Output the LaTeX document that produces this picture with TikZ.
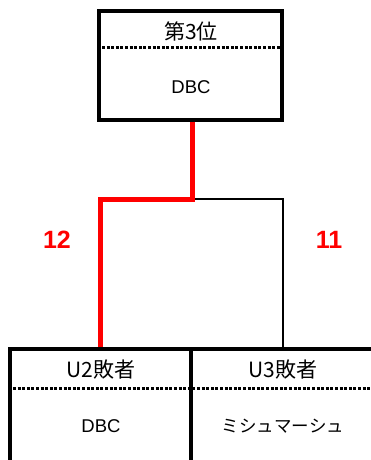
\documentclass[tikz,border=0pt]{standalone}
\usepackage{fontspec}
\setmainfont{Liberation Sans}
\newfontfamily\jp{Noto Sans CJK JP}
\begin{document}
\begin{tikzpicture}[x=1pt,y=-1pt,
  box/.style={draw=black,line width=3.2pt,rectangle,inner sep=0pt},
  sep/.style={line width=3pt,dash pattern=on 3pt off 1.6pt},
  head/.style={font=\jp\fontsize{21}{21}\selectfont,inner sep=0pt},
  body/.style={font=\fontsize{18.5}{18.5}\selectfont,inner sep=0pt},
  bodyjp/.style={font=\jp\fontsize{17.5}{17.5}\selectfont,inner sep=0pt},
  win/.style={draw=red,line width=5pt},
  lose/.style={draw=black,line width=1.3pt},
  score/.style={text=red,font=\bfseries\fontsize{25}{25}\selectfont,inner sep=0pt}]
\useasboundingbox (0,0) rectangle (371,460);
\fill[white] (0,0) rectangle (371,460);
% top box
\node[box,minimum width=183pt,minimum height=109pt] (top) at (190.5,65.5) {};
\draw[sep] (top.west |- 0,48) coordinate (tsl) -- (top.east |- 0,48) coordinate (tsr);
\node[head] (th) at (191,31) {第3位};
\node[body] (tb) at (191,87) {DBC};
% bottom boxes
\node[box,minimum width=181pt,minimum height=121pt] (u2) at (100.5,409.5) {};
\node[box,minimum width=184pt,minimum height=121pt] (u3) at (283,409.5) {};
\draw[sep] (u2.west |- 0,388) coordinate (bsl) -- (u3.east |- 0,388) coordinate (bsr);
\node[head] (u2h) at (101,370) {U2敗者};
\node[head] (u3h) at (283,370) {U3敗者};
\node[body] (u2b) at (101,426) {DBC};
\node[bodyjp] (u3b) at (283,426) {ミシュマーシュ};
% connectors
\coordinate (j) at (192,199);
\draw[lose] (j) -| (u3.north);
\draw[win] (top.south -| j) -- (j) -| (u2.north);
% scores
\node[score] (s12) at (57,240) {12};
\node[score] (s11) at (329,240) {11};
\end{tikzpicture}
\end{document}
